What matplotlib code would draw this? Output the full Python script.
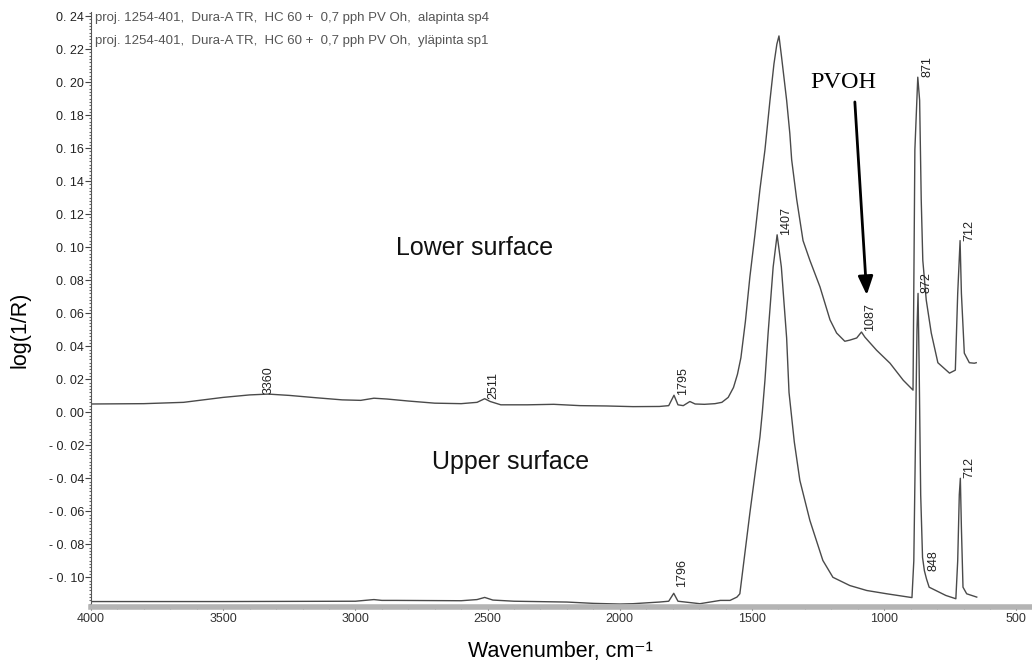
import numpy as np
import matplotlib
matplotlib.use('Agg')
from matplotlib import pyplot as plt
from matplotlib.ticker import MultipleLocator, FixedLocator

# %% data
# lower surface (upper trace)
low_wn = [4000, 3800, 3650, 3500, 3400, 3330, 3250, 3150, 3050, 2980, 2930,
          2880, 2800, 2700, 2600, 2540, 2511, 2490, 2450, 2350, 2250, 2150,
          2050, 1950, 1850, 1815, 1795, 1780, 1760, 1735, 1715, 1680, 1640,
          1614, 1590, 1570, 1555, 1542, 1525, 1508, 1489, 1470, 1451, 1432,
          1417, 1406, 1398, 1388, 1369, 1357, 1350, 1331, 1307, 1281, 1243,
          1205, 1180, 1149, 1130, 1104, 1086, 1073, 1029, 978, 928, 891, 884,
          873, 866, 860, 854, 841, 822, 797, 753, 731, 722, 713, 708, 697,
          678, 659, 652]
low_val = [0.0050, 0.0052, 0.0060, 0.0090, 0.0105, 0.0110, 0.0102, 0.0088,
           0.0075, 0.0072, 0.0085, 0.0080, 0.0068, 0.0055, 0.0052, 0.0060,
           0.0082, 0.0065, 0.0045, 0.0045, 0.0048, 0.0040, 0.0038, 0.0034,
           0.0035, 0.0040, 0.0103, 0.0045, 0.0040, 0.0065, 0.0050, 0.0048,
           0.0052, 0.0060, 0.0090, 0.0150, 0.0230, 0.0330, 0.0550, 0.0820,
           0.1075, 0.1350, 0.1590, 0.1890, 0.2110, 0.2230, 0.2280, 0.2150,
           0.1890, 0.1690, 0.1530, 0.1290, 0.1040, 0.0920, 0.0760, 0.0560,
           0.0480, 0.0430, 0.0437, 0.0450, 0.0486, 0.0455, 0.0376, 0.0297,
           0.0194, 0.0134, 0.1590, 0.2030, 0.1890, 0.1290, 0.0920, 0.0680,
           0.0480, 0.0300, 0.0237, 0.0255, 0.0720, 0.1040, 0.0720, 0.0358,
           0.0300, 0.0297, 0.0300]

# upper surface (lower trace)
up_wn = [4000, 3500, 3000, 2930, 2900, 2850, 2600, 2540, 2511, 2480, 2400,
         2200, 2100, 2000, 1950, 1850, 1815, 1796, 1780, 1697, 1620, 1583,
         1557, 1546, 1508, 1470, 1461, 1451, 1439, 1420, 1405, 1389, 1369,
         1360, 1340, 1319, 1281, 1232, 1194, 1130, 1066, 990, 895, 888, 882,
         876, 872, 868, 862, 855, 848, 840, 830, 767, 729, 722, 716, 712,
         708, 702, 688, 650]
up_val = [-0.1147, -0.1147, -0.1145, -0.1135, -0.1140, -0.1140, -0.1142,
          -0.1135, -0.1122, -0.1138, -0.1145, -0.1150, -0.1158, -0.1162,
          -0.1160, -0.1150, -0.1145, -0.1097, -0.1145, -0.1160, -0.1140,
          -0.1140, -0.1120, -0.1100, -0.0610, -0.0150, 0.0000, 0.0194,
          0.0480, 0.0880, 0.1075, 0.0880, 0.0450, 0.0120, -0.0180, -0.0413,
          -0.0656, -0.0898, -0.1000, -0.1050, -0.1080, -0.1100, -0.1123,
          -0.0900, -0.0200, 0.0500, 0.0720, 0.0300, -0.0500, -0.0880,
          -0.0960, -0.1010, -0.1060, -0.1110, -0.1130, -0.0900, -0.0500,
          -0.0400, -0.0700, -0.1060, -0.1100, -0.1120]

# peak labels: (wavenumber, value, text)
peak_wn = [3360, 2511, 1795, 1087, 871, 712, 1405, 872, 848, 712, 1796]
peak_val = [0.0110, 0.0082, 0.0103, 0.0490, 0.2030, 0.1040,
            0.1075, 0.0720, -0.0960, -0.0400, -0.1060]
peak_txt = ['3360', '2511', '1795', '1087', '871', '712',
            '1407', '872', '848', '712', '1796']

legend_lines = ['proj. 1254-401,  Dura-A TR,  HC 60 +  0,7 pph PV Oh,  alapinta sp4',
                'proj. 1254-401,  Dura-A TR,  HC 60 +  0,7 pph PV Oh,  yläpinta sp1']

y_ticks = [0.24, 0.22, 0.20, 0.18, 0.16, 0.14, 0.12, 0.10, 0.08, 0.06, 0.04,
           0.02, 0.00, -0.02, -0.04, -0.06, -0.08, -0.10]
y_ticklabels = ['0. 24', '0. 22', '0. 20', '0. 18', '0. 16', '0. 14', '0. 12',
                '0. 10', '0. 08', '0. 06', '0. 04', '0. 02', '0. 00', '- 0. 02',
                '- 0. 04', '- 0. 06', '- 0. 08', '- 0. 10']
x_ticks = [4000, 3500, 3000, 2500, 2000, 1500, 1000, 500]

# %% plot
fig = plt.figure(figsize=(10.32, 6.67), dpi=100)
ax = fig.add_axes([91/1032, 1 - 607/667, 1 - 91/1032, 595/667])

ax.plot(low_wn, low_val, color='#4a4a4a', lw=1.0)
ax.plot(up_wn, up_val, color='#4a4a4a', lw=1.0)

ax.set_xlim(4000, 441)
ax.set_ylim(-0.118, 0.2425)

for xp, yp, t in zip(peak_wn, peak_val, peak_txt):
    ax.annotate(t, (xp, yp), xytext=(2, 0), textcoords='offset points',
                rotation=90, ha='left', va='bottom', fontsize=9,
                family=['Liberation Sans'], color='#222222')

# y axis
ax.yaxis.set_major_locator(FixedLocator(y_ticks))
ax.set_yticklabels(y_ticklabels, family=['Liberation Sans'], fontsize=9,
                   color='#222222')
ax.yaxis.set_minor_locator(MultipleLocator(0.002))
ax.tick_params(axis='y', which='major', direction='out', length=4, width=0.8,
               color='#444444', pad=1)
ax.tick_params(axis='y', which='minor', direction='out', length=1.5,
               width=0.8, color='#666666')

# x axis
ax.xaxis.set_major_locator(FixedLocator(x_ticks))
ax.xaxis.set_minor_locator(MultipleLocator(100))
ax.set_xticklabels([str(v) for v in x_ticks],
                   family=['Liberation Sans Narrow', 'Liberation Sans'],
                   fontsize=9, color='#333333')
ax.tick_params(axis='x', which='major', direction='out', length=2.5,
               width=0.8, color='#555555', pad=2)
ax.tick_params(axis='x', which='minor', direction='out', length=1.5,
               width=0.8, color='#777777')

for s in ['top', 'right']:
    ax.spines[s].set_visible(False)
ax.spines['left'].set_color('#555555')
ax.spines['left'].set_linewidth(0.8)
ax.spines['bottom'].set_color('#b4b4b4')
ax.spines['bottom'].set_linewidth(4)

# legend text
for i, line in enumerate(legend_lines):
    fig.text(95/1032, 1 - (18 + 23*i)/667, line, fontsize=9.5,
             family=['Liberation Sans'], color='#555555', va='center')

# annotations
ax.text(2548, 0.0995, 'Lower surface', fontsize=18, family=['Liberation Sans'],
        ha='center', va='center', color='#111111')
ax.text(2415, -0.0304, 'Upper surface', fontsize=18, family=['Liberation Sans'],
        ha='center', va='center', color='#111111')
ax.text(1156, 0.1997, 'PVOH', fontsize=17.5, family=['Liberation Serif'],
        ha='center', va='center', color='black')
ax.annotate('', xy=(1066, 0.071), xytext=(1111, 0.188),
            arrowprops=dict(arrowstyle='-|>,head_length=0.75,head_width=0.3',
                            color='black', lw=2, mutation_scale=15,
                            shrinkA=0, shrinkB=0))

fig.text(20/1032, 1 - 330/667, 'log(1/R)', rotation=90, ha='center',
         va='center', fontsize=15.5, family=['Liberation Sans', 'DejaVu Sans'])
fig.text(560/1032, 1 - 652/667, 'Wavenumber, cm\u207b\u00b9', ha='center',
         va='center', fontsize=15.5,
         family=['Liberation Sans Narrow', 'Liberation Sans', 'DejaVu Sans'])

fig.savefig('out.png', dpi=100)
